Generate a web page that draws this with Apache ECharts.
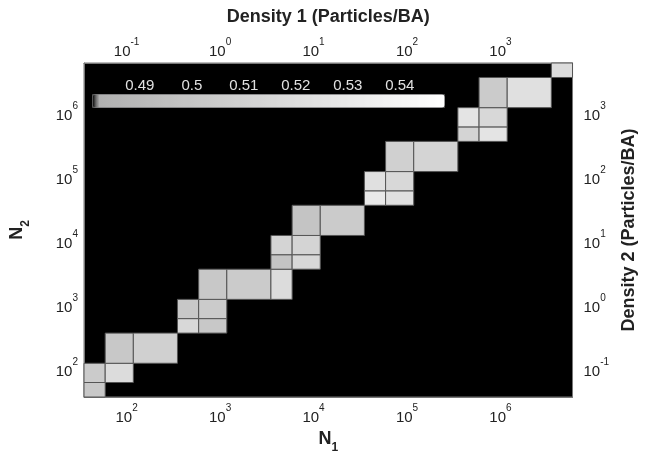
<!DOCTYPE html>
<html>
<head>
<meta charset="utf-8">
<script src="https://cdn.jsdelivr.net/npm/echarts@6/dist/echarts.min.js"></script>
<style>
  html, body { margin: 0; padding: 0; background: #fff; }
  #chart { width: 646px; height: 462px; }
</style>
</head>
<body>
<div id="chart"></div>
<script>
// bin edges in particle counts (N1 and N2 share the same bins)
let nEdges = [35, 59, 118, 350, 590, 1180, 3500, 5900, 11800, 35000, 59000, 118000,
	350000, 590000, 1180000, 3500000, 5900000];
// each cell: column bin, row bin, value
let cellCol = [0, 0, 1, 1, 2, 3, 3, 4, 4, 4, 5, 6, 6, 6, 7, 7, 7, 8, 9, 9, 10, 10, 10, 11, 12, 12, 13, 13, 13, 14, 15];
let cellRow = [0, 1, 1, 2, 2, 3, 4, 3, 4, 5, 5, 5, 6, 7, 6, 7, 8, 8, 9, 10, 9, 10, 11, 11, 12, 13, 12, 13, 14, 14, 15];
let cellValue = [0.502, 0.505, 0.519, 0.502, 0.509, 0.516, 0.502, 0.502, 0.505, 0.502, 0.505, 0.519,
	0.499, 0.512, 0.516, 0.512, 0.499, 0.505, 0.53, 0.5225, 0.5225, 0.516, 0.509, 0.512,
	0.512, 0.526, 0.526, 0.516, 0.505, 0.5225, 0.519];
let nMin = 35, nMax = 5900000;
let densityScale = 1000; // density = N / 1000
let cbMin = 0.4808, cbMax = 0.5485;

let myChart = echarts.init(document.getElementById('chart'));

let data = cellValue.map(function(v, i) {
	return [nEdges[cellCol[i]], nEdges[cellCol[i] + 1], nEdges[cellRow[i]], nEdges[cellRow[i] + 1], v];
});

// gray colormap, first entry black like the MATLAB bar
let cmap = ['#000000'];
for (let i = 0; i < 60; i++) {
	let g = Math.round(176 + (255 - 176) * i / 59).toString(16);
	cmap.push('#' + g + g + g);
}

let font = 'Liberation Sans';
function powLabel(v) {
	let e = Math.round(Math.log10(v));
	return '{b|10}{s|' + e + '}';
}
let powRich = {
	b: { fontSize: 15, fontFamily: font, color: '#222', lineHeight: 22, verticalAlign: 'bottom' },
	s: { fontSize: 10, fontFamily: font, color: '#222', verticalAlign: 'top' }
};

function logAxis(extra) {
	return Object.assign({
		type: 'log',
		logBase: 10,
		axisLine: { show: true, lineStyle: { color: '#777', width: 1 } },
		axisTick: { show: false },
		splitLine: { show: false },
		nameLocation: 'middle',
		nameTextStyle: { fontFamily: font, fontWeight: 'bold', fontSize: 18, color: '#222' }
	}, extra);
}

let subRich = {
	n: { fontFamily: font, fontWeight: 'bold', fontSize: 18, color: '#222', lineHeight: 24, verticalAlign: 'top' },
	i: { fontFamily: font, fontWeight: 'bold', fontSize: 12, color: '#222', verticalAlign: 'bottom' }
};

let option = {
	animation: false,
	backgroundColor: '#fff',
	grid: [{
		left: 79, top: 63, width: 505, height: 334,
		show: true, backgroundColor: '#000', borderColor: '#777', borderWidth: 1
	}, {
		left: 92, top: 94, width: 352, height: 13
	}],
	xAxis: [
		logAxis({ gridIndex: 0, position: 'bottom', min: nMin, max: nMax, name: '{n|N}{i|1}', nameGap: 30,
			axisLabel: { formatter: powLabel, rich: powRich, showMinLabel: false, showMaxLabel: false, margin: 6 },
			nameTextStyle: { rich: subRich } }),
		logAxis({ gridIndex: 0, position: 'top', min: nMin / densityScale, max: nMax / densityScale,
			name: 'Density 1 (Particles/BA)', nameGap: 37,
			axisLabel: { formatter: powLabel, rich: powRich, showMinLabel: false, showMaxLabel: false, margin: 4 } }),
		{
			gridIndex: 1, type: 'value', position: 'top', min: cbMin, max: cbMax,
			axisLine: { show: false }, axisTick: { show: false }, splitLine: { show: false },
			axisLabel: { margin: 1, fontSize: 15, fontFamily: font, color: '#e0e0e0', showMinLabel: false, showMaxLabel: false }
		}
	],
	yAxis: [
		logAxis({ gridIndex: 0, position: 'left', min: nMin, max: nMax, name: '{n|N}{i|2}', nameGap: 52,
			axisLabel: { formatter: powLabel, rich: powRich, showMinLabel: false, showMaxLabel: false, margin: 6 },
			nameTextStyle: { rich: subRich } }),
		logAxis({ gridIndex: 0, position: 'right', min: nMin / densityScale, max: nMax / densityScale,
			name: 'Density 2 (Particles/BA)', nameGap: 42,
			axisLabel: { formatter: powLabel, rich: powRich, showMinLabel: false, showMaxLabel: false, margin: 11 } }),
		{ gridIndex: 1, type: 'value', show: false }
	],
	visualMap: {
		type: 'continuous',
		min: cbMin,
		max: cbMax,
		orient: 'horizontal',
		left: 92,
		top: 94,
		itemWidth: 13,
		itemHeight: 352,
		padding: 0,
		calculable: false,
		hoverLink: false,
		text: null,
		seriesIndex: 0,
		dimension: 4,
		borderColor: '#555',
		borderWidth: 1,
		inRange: { color: cmap }
	},
	series: [{
		type: 'custom',
		xAxisIndex: 0,
		yAxisIndex: 0,
		encode: { x: [0, 1], y: [2, 3] },
		data: data,
		renderItem: function(params, api) {
			let p0 = api.coord([api.value(0), api.value(2)]);
			let p1 = api.coord([api.value(1), api.value(3)]);
			return {
				type: 'rect',
				shape: { x: p0[0], y: p1[1], width: p1[0] - p0[0], height: p0[1] - p1[1] },
				style: { fill: api.visual('color'), stroke: '#555', lineWidth: 1 }
			};
		}
	}]
};
myChart.setOption(option);
</script>
</body>
</html>
